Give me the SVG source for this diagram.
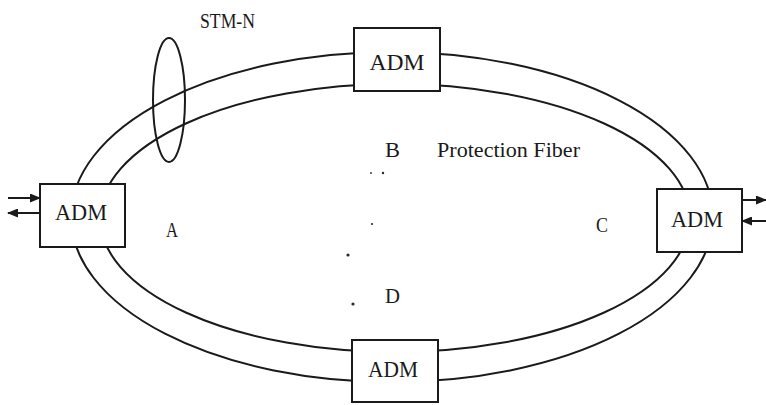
<svg xmlns="http://www.w3.org/2000/svg" width="766" height="405" viewBox="0 0 766 405">
  <style>
    .ring { fill: none; stroke: #1a1a1a; stroke-width: 2; }
    .box { fill: #ffffff; stroke: #1a1a1a; stroke-width: 2; }
    .lbl { font-family: "Liberation Serif", "Times New Roman", serif; fill: #1a1a1a; }
    .adm { font-size: 23px; text-anchor: middle; }
    .big { font-size: 22px; }
    .arr { stroke: #1a1a1a; stroke-width: 2; fill: none; marker-end: url(#ah); }
    .dot { fill: #2a2a2a; }
  </style>
  <defs>
    <marker id="ah" markerWidth="11" markerHeight="9" refX="10" refY="4.5" orient="auto" markerUnits="userSpaceOnUse">
      <path d="M0,0 L11,4.5 L0,9 Z" fill="#1a1a1a"/>
    </marker>
  </defs>
  <rect width="766" height="405" fill="#ffffff"/>

  <g id="connectors">
    <ellipse class="ring" cx="392" cy="217" rx="321" ry="165"/>
    <ellipse class="ring" cx="395" cy="218" rx="295" ry="134"/>
    <ellipse class="ring" cx="169" cy="100" rx="16" ry="62"/>
    <line class="arr" x1="8" y1="198" x2="40" y2="198"/>
    <line class="arr" x1="40" y1="213" x2="8" y2="213"/>
    <line class="arr" x1="742" y1="200" x2="766" y2="200"/>
    <line class="arr" x1="766" y1="221" x2="742" y2="221"/>
  </g>

  <g id="adm-top">
    <rect class="box" x="354" y="28" width="86" height="63"/>
    <text class="lbl adm" x="397" y="70" textLength="55" lengthAdjust="spacingAndGlyphs">ADM</text>
  </g>
  <g id="adm-left">
    <rect class="box" x="40" y="184" width="85" height="63"/>
    <text class="lbl adm" x="81" y="220" textLength="52" lengthAdjust="spacingAndGlyphs">ADM</text>
  </g>
  <g id="adm-right">
    <rect class="box" x="657" y="189" width="85" height="63"/>
    <text class="lbl adm" x="697" y="227" textLength="52" lengthAdjust="spacingAndGlyphs">ADM</text>
  </g>
  <g id="adm-bottom">
    <rect class="box" x="352" y="340" width="86" height="62"/>
    <text class="lbl adm" x="393" y="377" textLength="50" lengthAdjust="spacingAndGlyphs">ADM</text>
  </g>

  <g id="labels">
    <text class="lbl big" x="200" y="28" textLength="55" lengthAdjust="spacingAndGlyphs">STM-N</text>
    <text class="lbl big" x="385" y="157" textLength="15" lengthAdjust="spacingAndGlyphs">B</text>
    <text class="lbl big" x="437" y="157" textLength="143" lengthAdjust="spacingAndGlyphs">Protection Fiber</text>
    <text class="lbl big" x="166" y="237" textLength="12" lengthAdjust="spacingAndGlyphs">A</text>
    <text class="lbl big" x="596" y="232" textLength="12" lengthAdjust="spacingAndGlyphs">C</text>
    <text class="lbl big" x="385" y="303" textLength="15" lengthAdjust="spacingAndGlyphs">D</text>
  </g>

  <g id="dots">
    <circle class="dot" cx="371" cy="173" r="0.9"/>
    <circle class="dot" cx="383" cy="173" r="1.2"/>
    <circle class="dot" cx="372" cy="224" r="1.1"/>
    <circle class="dot" cx="348" cy="255" r="1.6"/>
    <circle class="dot" cx="353" cy="304" r="1.6"/>
  </g>
</svg>
